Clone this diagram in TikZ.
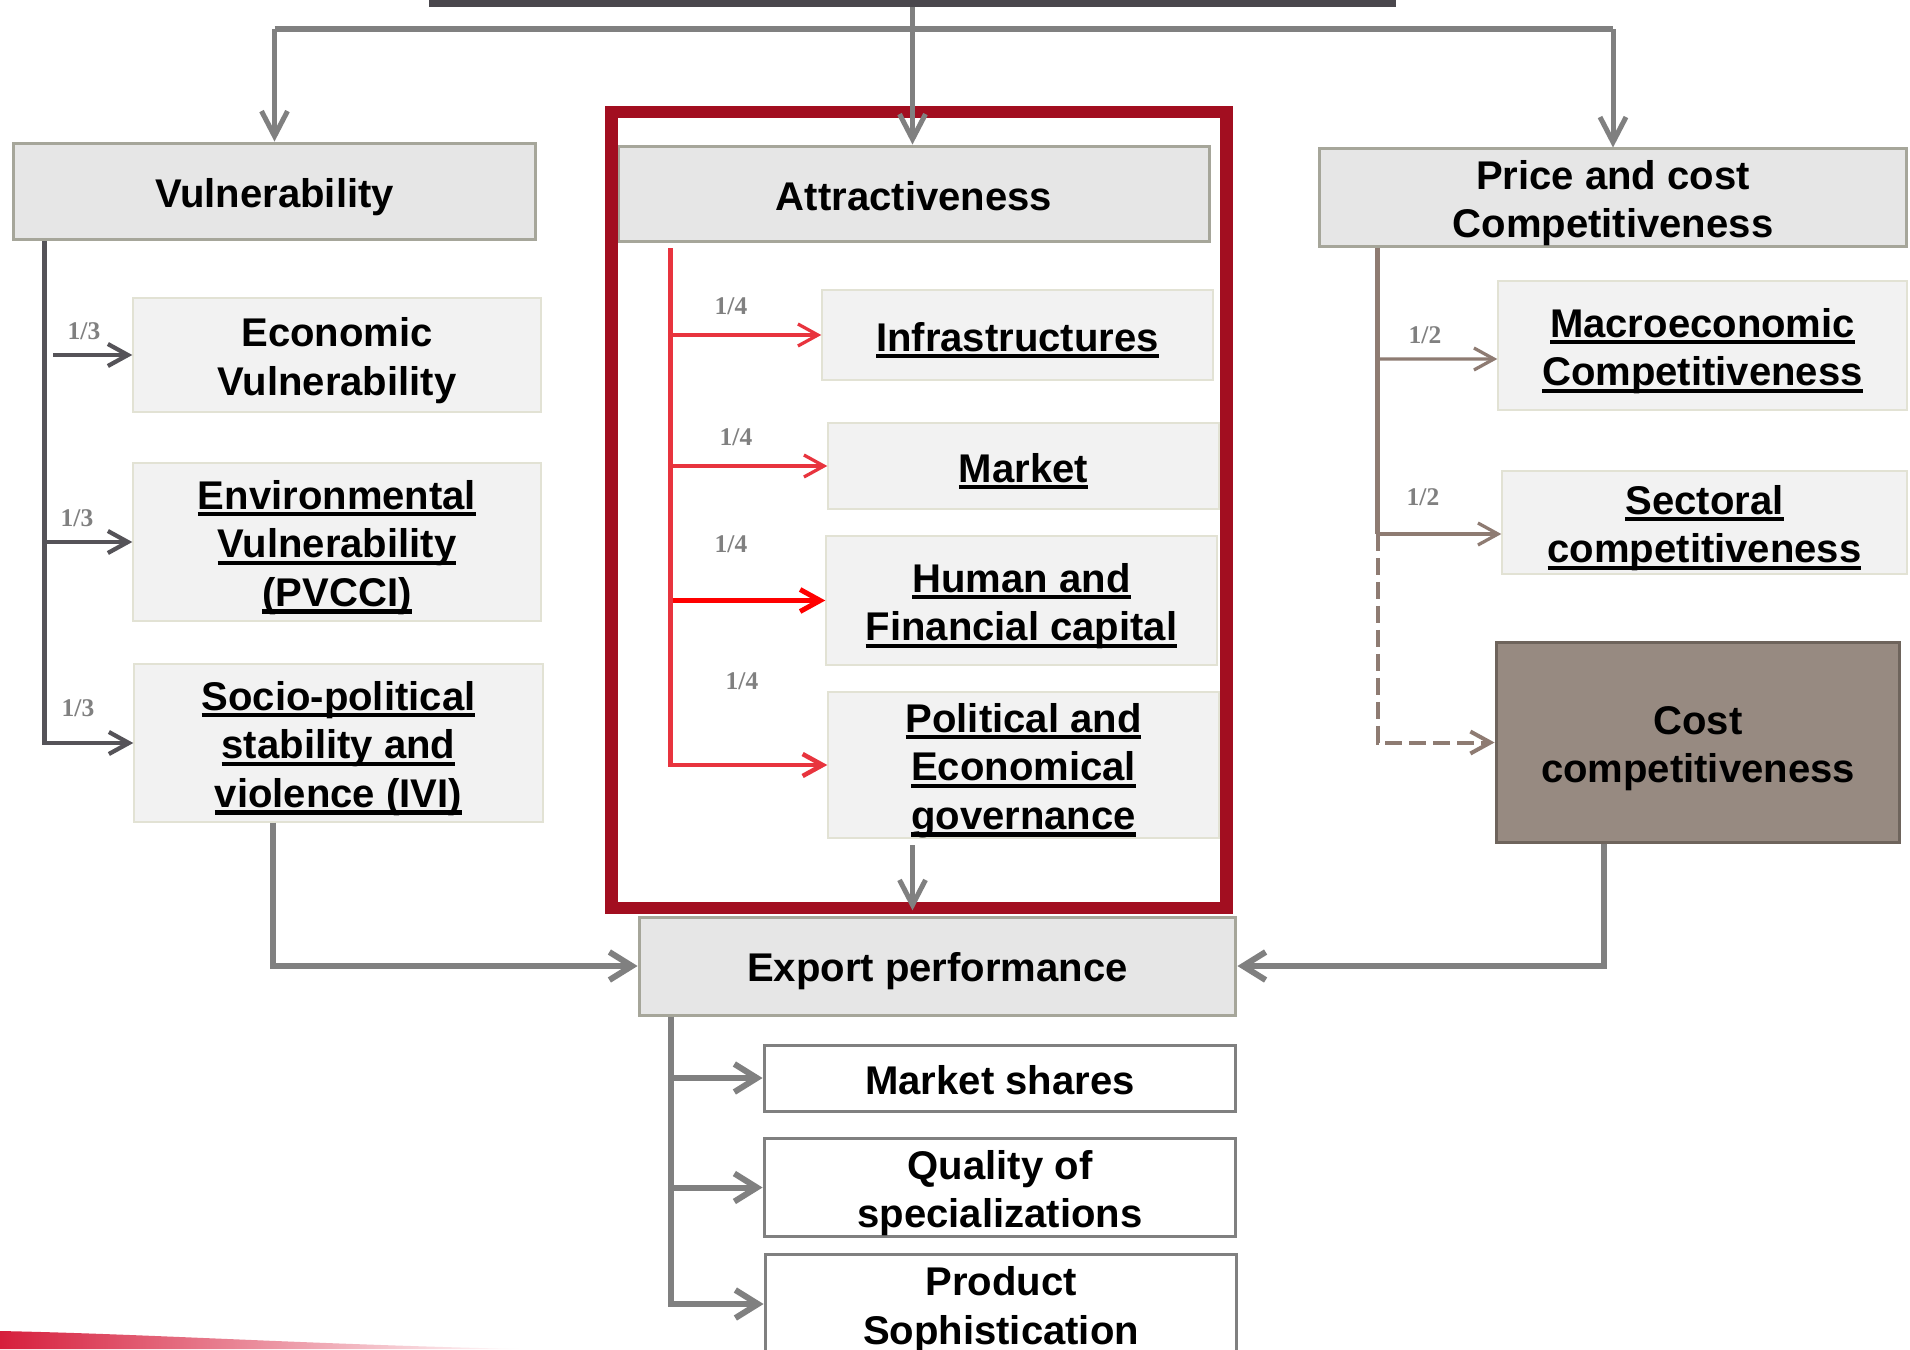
\documentclass[tikz,border=0pt]{standalone}
\usepackage{fontspec}
\setmainfont{Liberation Sans}
\newfontfamily\wfont{Liberation Serif}
\usetikzlibrary{arrows.meta,calc}
\definecolor{hdfill}{RGB}{230,230,230}
\definecolor{hdedge}{RGB}{166,166,154}
\definecolor{subfill}{RGB}{242,242,242}
\definecolor{subedge}{RGB}{226,226,212}
\definecolor{costfill}{RGB}{151,138,129}
\definecolor{costedge}{RGB}{110,100,92}
\definecolor{midgray}{RGB}{128,128,128}
\definecolor{vulgray}{RGB}{85,83,88}
\definecolor{barcol}{RGB}{74,71,77}
\definecolor{attrred}{RGB}{232,52,62}
\definecolor{framered}{RGB}{162,14,32}
\definecolor{pricebrown}{RGB}{142,123,114}
\definecolor{swred}{RGB}{214,30,60}
\newcommand\undl[1]{\leavevmode\setbox0\hbox{#1}\rlap{\rule[-0.18em]{\wd0}{0.11em}}\box0}
\newcommand\ts{\rule[-0.2em]{0pt}{1.2em}}
\tikzset{
  txt/.style={align=center,inner sep=0pt,text=black,font=\bfseries\fontsize{22.8}{27.7}\selectfont,
    execute at begin node=\ts,execute at end node=\ts},
  header/.style={txt,draw=hdedge,fill=hdfill,line width=0.06cm},
  subbox/.style={txt,draw=subedge,fill=subfill,line width=0.03cm},
  outbox/.style={txt,draw=midgray,fill=white,line width=0.06cm},
  costbox/.style={txt,draw=costedge,fill=costfill,line width=0.06cm},
  wlabel/.style={inner sep=0pt,text=midgray,font=\wfont\bfseries\fontsize{14.5}{16}\selectfont},
  toparrow/.style={draw=midgray,line width=0.1cm,-{Straight Barb[length=0.5cm,width=0.52cm]}},
  vularrow/.style={draw=vulgray,line width=0.085cm,-{Straight Barb[length=0.4cm,width=0.44cm]}},
  attrarrow/.style={draw=attrred,line width=0.065cm,-{Straight Barb[length=0.4cm,width=0.44cm]}},
  pricearrow/.style={draw=pricebrown,line width=0.065cm,-{Straight Barb[length=0.4cm,width=0.44cm]}},
  exparrow/.style={draw=midgray,line width=0.12cm,-{Straight Barb[length=0.45cm,width=0.56cm]}}
}
\begin{document}
\begin{tikzpicture}[x=0.02cm,y=-0.02cm]
\clip (0,0) rectangle (1910,1349);
\fill[white] (0,0) rectangle (1910,1349);
%swoosh
\shade[left color=swred,right color=white] (0,1331) .. controls (150,1334) and (300,1344) .. (520,1349) -- (0,1349) -- cycle;
%top bar and the three headers
\node[fill=barcol,inner sep=0pt,minimum width=19.34cm,minimum height=0.24cm] (topbar) at (912.5,1) {};
\node[header,minimum width=10.46cm,minimum height=1.94cm] (vul) at (274.5,191.5) {Vulnerability};
\node[header,minimum width=11.84cm,minimum height=1.92cm] (attr) at (914,194) {Attractiveness};
\node[header,minimum width=11.76cm,minimum height=1.94cm] (price) at (1613,197.5) {\ts Price and cost\\Competitiveness\ts};
%vulnerability
\node[subbox,minimum width=8.16cm,minimum height=2.28cm] (eco) at (337,355) {\ts Economic\\Vulnerability\ts};
\node[subbox,minimum width=8.16cm,minimum height=3.16cm] (env) at (337,542) {\ts\undl{Environmental}\\\undl{Vulnerability}\\\undl{(PVCCI)}\ts};
\node[subbox,minimum width=8.18cm,minimum height=3.16cm] (socio) at (338.5,743) {\ts\undl{Socio-political}\\\undl{stability and}\\\undl{violence (IVI)}\ts};
%attractiveness
\node[subbox,minimum width=7.82cm,minimum height=1.8cm] (infra) at (1017.5,335) {\undl{Infrastructures}};
\node[subbox,minimum width=7.82cm,minimum height=1.72cm] (market) at (1023.5,466) {\undl{Market}};
\node[subbox,minimum width=7.82cm,minimum height=2.58cm] (human) at (1021.5,600.5) {\ts\undl{Human and}\\\undl{Financial capital}\ts};
\node[subbox,minimum width=7.82cm,minimum height=2.92cm] (polit) at (1023.5,765) {\ts\undl{Political and}\\\undl{Economical}\\\undl{governance}\ts};
%price and cost
\node[subbox,minimum width=8.18cm,minimum height=2.58cm] (macro) at (1702.5,345.5) {\ts\undl{Macroeconomic}\\\undl{Competitiveness}\ts};
\node[subbox,minimum width=8.1cm,minimum height=2.06cm] (sect) at (1704.5,522.5) {\ts\undl{Sectoral}\\\undl{competitiveness}\ts};
\node[costbox,minimum width=8.08cm,minimum height=4.02cm] (cost) at (1698,742.5) {\ts Cost\\competitiveness\ts};
%export performance
\node[header,minimum width=11.94cm,minimum height=1.96cm] (export) at (937.5,966) {Export performance};
\node[outbox,minimum width=9.44cm,minimum height=1.32cm] (shares) at (1000,1078) {Market shares};
\node[outbox,minimum width=9.44cm,minimum height=1.94cm] (quality) at (1000,1187.5) {\ts Quality of\\specializations\ts};
\node[outbox,minimum width=9.44cm,minimum height=2cm] (product) at (1001,1304) {\ts Product\\Sophistication\ts};
%frame
\draw[framered,line width=0.25cm] (611.5,112) rectangle (1226.5,908);
%top connectors
\coordinate (hub) at (topbar.south |- 0,29);
\draw[midgray,line width=0.13cm] (vul.north |- hub) -- (price.north |- hub);
\draw[toparrow] (topbar.south) -- (topbar.south |- attr.north);
\draw[toparrow] (vul.north |- hub) -- (vul.north);
\draw[toparrow] (price.north |- hub) -- (price.north);
%vulnerability branches
\coordinate (vtrunk) at ([xshift=0.66cm]vul.south west);
\draw[vularrow] ([xshift=-1.58cm]eco.west) -- (eco.west);
\draw[vularrow] (vtrunk |- env.west) -- (env.west);
\draw[vularrow] (vtrunk) |- (socio.west);
\node[wlabel] (w31) at (84,331) {1/3};
\node[wlabel] (w32) at (77,518) {1/3};
\node[wlabel] (w33) at (78,708) {1/3};
%attractiveness branches
\coordinate (atrunk) at ([xshift=1.08cm,yshift=-0.1cm]attr.south west);
\draw[attrarrow] (atrunk |- infra.west) -- (infra.west);
\draw[attrarrow] (atrunk |- market.west) -- (market.west);
\draw[attrarrow,draw=red,line width=0.1cm] (atrunk |- human.west) -- (human.west);
\draw[attrarrow,line width=0.09cm] (atrunk) |- (polit.west);
\node[wlabel] (w41) at (731,306) {1/4};
\node[wlabel] (w42) at (736,437) {1/4};
\node[wlabel] (w43) at (731,544) {1/4};
\node[wlabel] (w44) at (742,681) {1/4};
%price branches
\coordinate (ptrunk) at ([xshift=1.2cm]price.south west);
\coordinate (psplit) at ([yshift=-0.23cm]sect.west);
\draw[pricearrow] (ptrunk |- macro.west) ++(0,13.5) -- ([yshift=-0.27cm]macro.west);
\draw[pricearrow,-,line width=0.09cm] (ptrunk) -- (ptrunk |- psplit);
\draw[pricearrow] (ptrunk |- psplit) -- (psplit);
\draw[pricearrow,line width=0.08cm,dash pattern=on 0.34cm off 0.14cm] (ptrunk |- psplit) |- (cost.west);
\node[wlabel] (w21) at (1425,335) {1/2};
\node[wlabel] (w22) at (1423,497) {1/2};
%into export performance
\draw[toparrow] (topbar.south -| polit.south -| hub) ++(0,838) -- ++(0,65);
\draw[exparrow] ([xshift=2.8cm]socio.south west) |- (export.west);
\draw[exparrow] ([xshift=2.18cm]cost.south west) |- (export.east);
%export branches
\coordinate (etrunk) at ([xshift=0.66cm]export.south west);
\draw[exparrow] (etrunk |- shares.west) -- (shares.west);
\draw[exparrow] (etrunk |- quality.west) -- (quality.west);
\draw[exparrow] (etrunk) |- (product.west);
\end{tikzpicture}
\end{document}
